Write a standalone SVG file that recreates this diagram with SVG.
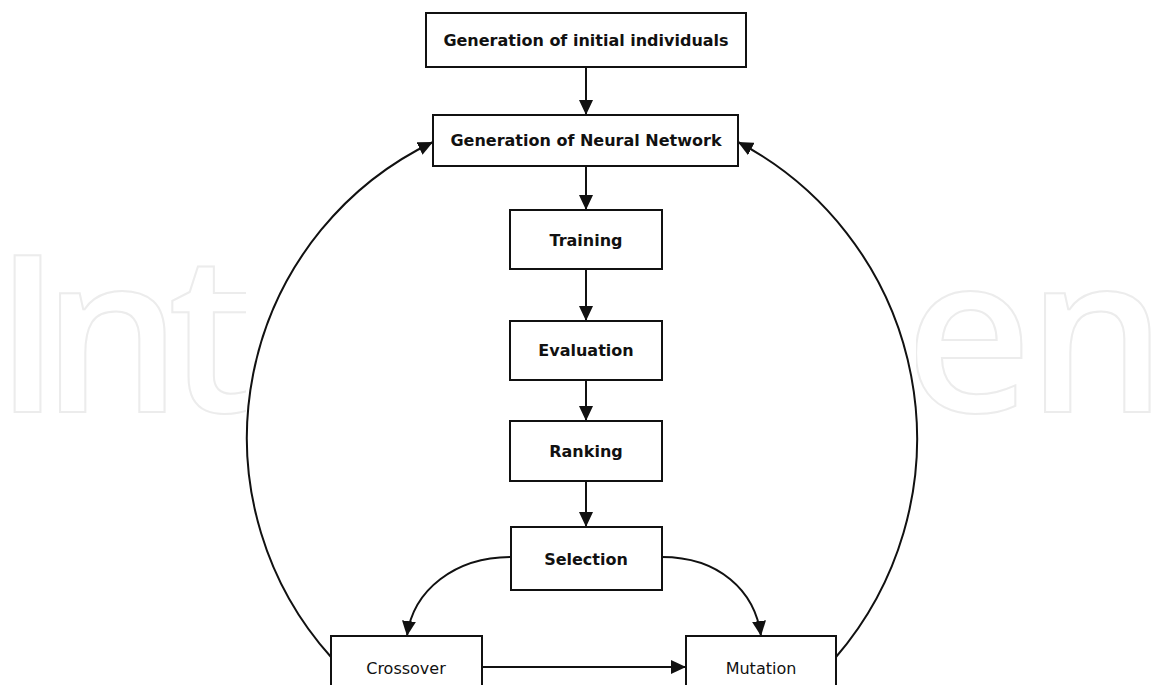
<svg xmlns="http://www.w3.org/2000/svg" width="1151" height="685" viewBox="0 0 1151 685">
  <style>
    .box { fill: #ffffff; stroke: #111111; stroke-width: 2; }
    .lbl { font-family: "DejaVu Sans", "Liberation Sans", sans-serif; font-size: 16px; fill: #111111; text-anchor: middle; }
    .b { font-weight: bold; }
    .edge { fill: none; stroke: #111111; stroke-width: 2; marker-end: url(#arrow); }
    .wm { font-family: "Open Sans", "Lato", sans-serif; font-weight: 600; font-size: 220px; fill: none; stroke: #ececec; stroke-width: 2; }
  </style>
  <defs>
    <marker id="arrow" viewBox="0 0 10 10" refX="10" refY="5" markerWidth="15" markerHeight="14" markerUnits="userSpaceOnUse" orient="auto" preserveAspectRatio="none">
      <path d="M0,0 L10,5 L0,10 z" fill="#111111"/>
    </marker>
    <clipPath id="wmclip">
      <rect x="0" y="0" width="246" height="685"/>
      <rect x="916" y="0" width="235" height="685"/>
    </clipPath>
  </defs>
  <rect width="1151" height="685" fill="#ffffff"/>
  <g id="watermark" clip-path="url(#wmclip)">
    <text class="wm" x="-6" y="412">I</text>
    <text class="wm" x="42" y="412">n</text>
    <text class="wm" x="168" y="412">t</text>
    <text class="wm" x="905" y="412">e</text>
    <text class="wm" x="1027" y="412">n</text>
  </g>
  <g id="connectors">
    <path class="edge" d="M586,67 V115"/>
    <path class="edge" d="M586,166 V210"/>
    <path class="edge" d="M586,269 V321"/>
    <path class="edge" d="M586,380 V421"/>
    <path class="edge" d="M586,481 V527"/>
    <path class="edge" d="M511,557 C455,557 413,590 407,636"/>
    <path class="edge" d="M662,557 C718,557 755,590 761,636"/>
    <path class="edge" d="M482,667 H686"/>
    <path class="edge" d="M331,657 A328,328 0 0 1 433,142"/>
    <path class="edge" d="M836,657 A335,335 0 0 0 738,142"/>
  </g>
  <g id="node-init">
    <rect class="box" x="426" y="13" width="320" height="54"/>
    <text class="lbl b" x="586" y="46">Generation of initial individuals</text>
  </g>
  <g id="node-gennn">
    <rect class="box" x="433" y="115" width="305" height="51"/>
    <text class="lbl b" x="586" y="146">Generation of Neural Network</text>
  </g>
  <g id="node-training">
    <rect class="box" x="510" y="210" width="152" height="59"/>
    <text class="lbl b" x="586" y="246">Training</text>
  </g>
  <g id="node-evaluation">
    <rect class="box" x="510" y="321" width="152" height="59"/>
    <text class="lbl b" x="586" y="356">Evaluation</text>
  </g>
  <g id="node-ranking">
    <rect class="box" x="510" y="421" width="152" height="60"/>
    <text class="lbl b" x="586" y="457">Ranking</text>
  </g>
  <g id="node-selection">
    <rect class="box" x="511" y="527" width="151" height="63"/>
    <text class="lbl b" x="586" y="565">Selection</text>
  </g>
  <g id="node-crossover">
    <rect class="box" x="331" y="636" width="151" height="60"/>
    <text class="lbl" x="406" y="674">Crossover</text>
  </g>
  <g id="node-mutation">
    <rect class="box" x="686" y="636" width="150" height="60"/>
    <text class="lbl" x="761" y="674">Mutation</text>
  </g>
</svg>
